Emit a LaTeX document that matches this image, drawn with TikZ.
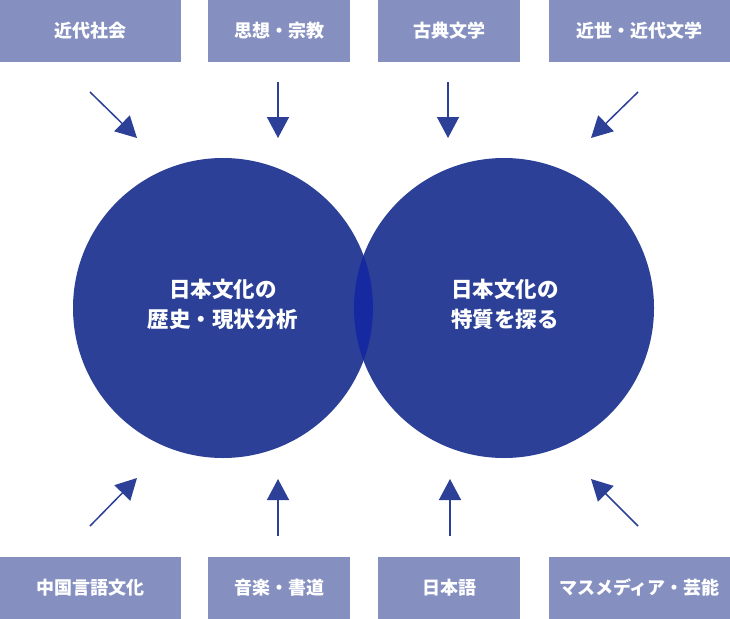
\documentclass[tikz,border=0pt]{standalone}
\usepackage{fontspec}
\setmainfont{Noto Sans CJK JP}
\usetikzlibrary{arrows.meta}
\definecolor{navy}{HTML}{2B4096}
\definecolor{navyd}{HTML}{1629A0}
\definecolor{boxc}{HTML}{8590C1}
\tikzset{
  labbox/.style={rectangle, fill=boxc, inner sep=0pt, minimum height=62pt, text=white,
    font=\bfseries\fontsize{18}{18}\selectfont},
  bigcirc/.style={circle, fill=navy, inner sep=0pt, minimum size=300pt},
  circtext/.style={text=white, align=center, inner sep=0pt,
    font=\bfseries\fontsize{21.5}{30}\selectfont},
  arr/.style={draw=navy, line width=1.5pt, -{Triangle[length=21pt,width=22pt]}}
}
\begin{document}
\begin{tikzpicture}[x=1pt,y=-1pt]
\useasboundingbox (0,0) rectangle (730,618);
% boxes top
\node[labbox, minimum width=181pt] (t1) at (90.5,31) {近代社会};
\node[labbox, minimum width=142pt] (t2) at (279,31) {思想・宗教};
\node[labbox, minimum width=142pt] (t3) at (449,31) {古典文学};
\node[labbox, minimum width=181pt] (t4) at (639.5,31) {近世・近代文学};
% boxes bottom
\node[labbox, minimum width=181pt] (u1) at (90.5,588) {中国言語文化};
\node[labbox, minimum width=142pt] (u2) at (279,588) {音楽・書道};
\node[labbox, minimum width=142pt] (u3) at (449,588) {日本語};
\node[labbox, minimum width=181pt] (u4) at (639.5,588) {マスメディア・芸能};
% circles
\node[bigcirc] (c1) at (223,308) {};
\node[bigcirc] (c2) at (504,308) {};
\begin{scope}
  \clip (223,308) circle (150pt);
  \fill[navyd] (504,308) circle (150pt);
\end{scope}
\node[circtext] (x1) at (223,304) {日本文化の\\歴史・現状分析};
\node[circtext] (x2) at (505,304) {日本文化の\\特質を探る};
% arrow end points
\coordinate (a1) at (90,92);   \coordinate (h1) at (137,138);
\coordinate (a2) at (278,82);  \coordinate (h2) at (278,138);
\coordinate (a3) at (448,82);  \coordinate (h3) at (448,138);
\coordinate (a4) at (638,92);  \coordinate (h4) at (591,138);
\coordinate (b1) at (90,526);  \coordinate (k1) at (137,478);
\coordinate (b2) at (278,536); \coordinate (k2) at (278,479);
\coordinate (b3) at (450,536); \coordinate (k3) at (450,479);
\coordinate (b4) at (638,526); \coordinate (k4) at (591,479);
\draw[arr] (a1) -- (h1);
\draw[arr] (a2) -- (h2);
\draw[arr] (a3) -- (h3);
\draw[arr] (a4) -- (h4);
\draw[arr] (b1) -- (k1);
\draw[arr] (b2) -- (k2);
\draw[arr] (b3) -- (k3);
\draw[arr] (b4) -- (k4);
\end{tikzpicture}
\end{document}
